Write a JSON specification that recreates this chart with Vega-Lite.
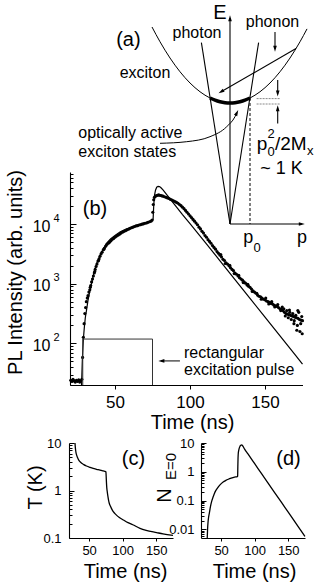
{
"$schema":"https://vega.github.io/schema/vega-lite/v6.json",
"width":321,"height":585,"autosize":"none","padding":0,"background":"white",
"config":{"font":"Liberation Sans","view":{"stroke":null},"axis":{"grid":false,"domainColor":"black","domainWidth":1.1,"tickColor":"black","tickWidth":1,"labelColor":"black","titleColor":"black","titleFontWeight":"normal","labelFlush":false,"labelOverlap":false}},
"resolve":{"scale":{"x":"independent","y":"independent"},"axis":{"x":"independent","y":"independent"}},
"datasets":{
"dots":[{"t":20.5,"I":24},{"t":21.3,"I":23},{"t":22,"I":25},{"t":22.8,"I":23.4},{"t":23.5,"I":22.4},{"t":24.3,"I":24},{"t":25,"I":23},{"t":25.8,"I":24.5},{"t":26.5,"I":22.4},{"t":27.2,"I":23.4},{"t":27.9,"I":25},
{"t":28.4,"I":58},{"t":28.9,"I":126},{"t":29.4,"I":214},{"t":29.9,"I":316},{"t":30.4,"I":398},{"t":30.9,"I":501},{"t":31.5,"I":575},{"t":32,"I":631},{"t":32.6,"I":724},{"t":33.2,"I":794},{"t":33.5,"I":870},{"t":33.8,"I":933},{"t":34.4,"I":1072},{"t":35,"I":1202},{"t":35.6,"I":1349},{"t":36.2,"I":1514},{"t":36.5,"I":1600},{"t":36.8,"I":1738},{"t":37.4,"I":1950},{"t":38,"I":2138},{"t":38.7,"I":2399},{"t":39,"I":2450},{"t":39.4,"I":2630},{"t":40,"I":2884},{"t":40.7,"I":3162},{"t":41.4,"I":3388},{"t":42.2,"I":3715},{"t":42.6,"I":3800},{"t":43,"I":3981},{"t":43.8,"I":4266},{"t":44.6,"I":4571},{"t":45.5,"I":4786},{"t":46,"I":4900},{"t":46.4,"I":5012},{"t":47.3,"I":5248},{"t":48.2,"I":5559},{"t":49.1,"I":5754},{"t":50,"I":6026},{"t":51,"I":6310},{"t":52,"I":6531},{"t":53,"I":6761},{"t":54,"I":7079},{"t":55,"I":7328},{"t":56,"I":7586},{"t":57,"I":7762},{"t":58,"I":8035},{"t":59,"I":8222},{"t":60,"I":8511},{"t":61,"I":8710},{"t":62,"I":8913},{"t":63,"I":9120},{"t":64,"I":9333},{"t":65,"I":9441},{"t":66,"I":9661},{"t":67,"I":9772},{"t":68,"I":10000},{"t":69,"I":10116},{"t":70,"I":10351},{"t":71,"I":10471},{"t":72,"I":10715},{"t":73,"I":10965},{"t":74,"I":11220},{"t":74.8,"I":11749},
{"t":75.2,"I":15849},{"t":75.5,"I":21380},{"t":75.8,"I":25704},{"t":76.3,"I":28184},{"t":77,"I":29512},{"t":77.7,"I":30200},{"t":78.4,"I":30549},{"t":79.1,"I":30903},{"t":79.8,"I":30549},{"t":80.5,"I":30200},{"t":81.2,"I":29854},{"t":82,"I":29512},{"t":83,"I":28840},{"t":84,"I":28184},{"t":85,"I":27542},{"t":86,"I":26915},{"t":87,"I":26002},{"t":88,"I":25410},{"t":89,"I":24547},{"t":90,"I":23988},{"t":91,"I":23174},{"t":92,"I":22387},{"t":93,"I":21380},{"t":94,"I":20417},{"t":95,"I":19275},{"t":96,"I":18197},{"t":97,"I":16982},{"t":98,"I":15849},{"t":99,"I":14791},{"t":100,"I":13804},{"t":101,"I":12882},{"t":102,"I":12023},{"t":103,"I":11220},{"t":104,"I":10471},{"t":105,"I":9772},{"t":106,"I":8913},{"t":107,"I":8318},{"t":108,"I":7586},{"t":109,"I":7079},{"t":110,"I":6457},{"t":111,"I":6026},{"t":112,"I":5495},{"t":113,"I":5129},{"t":114,"I":4786},{"t":115,"I":4365},{"t":116,"I":4074},{"t":117,"I":3802},{"t":118,"I":3467},{"t":119,"I":3236},{"t":120,"I":3020},{"t":120.5,"I":3090},{"t":121,"I":2818},{"t":122,"I":2570},{"t":123,"I":2455},{"t":123.5,"I":2188},{"t":124,"I":2239},{"t":125,"I":2138},{"t":126,"I":1995},{"t":126.5,"I":2042},{"t":127,"I":1862},{"t":128,"I":1738},{"t":129,"I":1660},{"t":129.5,"I":1479},{"t":130,"I":1514},{"t":131,"I":1445},{"t":132,"I":1349},{"t":132.5,"I":1380},{"t":133,"I":1259},{"t":134,"I":1202},{"t":135,"I":1148},{"t":135.5,"I":1047},{"t":136,"I":1072},{"t":137,"I":1023},{"t":138,"I":955},{"t":138.5,"I":977},{"t":139,"I":912},{"t":140,"I":871},{"t":141,"I":813},{"t":141.5,"I":741},{"t":142,"I":759},{"t":143,"I":724},{"t":144,"I":692},{"t":144.5,"I":692},{"t":145,"I":646},{"t":146,"I":617},{"t":147,"I":603},{"t":147.5,"I":550},{"t":148,"I":575},{"t":149,"I":550},{"t":150,"I":537},{"t":150.5,"I":575},{"t":151,"I":513},{"t":152,"I":501},{"t":152.5,"I":457},{"t":153,"I":490},{"t":154,"I":468},{"t":154.5,"I":501},{"t":155,"I":457},{"t":156,"I":437},{"t":156.5,"I":407},{"t":157,"I":427},{"t":158,"I":417},{"t":158.5,"I":447},{"t":159,"I":398},{"t":160,"I":380},{"t":160.5,"I":355},{"t":161,"I":372},{"t":161.5,"I":407},{"t":162,"I":355},{"t":162.5,"I":380},{"t":163,"I":331},{"t":163.5,"I":288},{"t":164,"I":316},{"t":164.5,"I":355},{"t":165,"I":309},{"t":165.5,"I":269},{"t":166,"I":302},{"t":166.3,"I":363},{"t":166.5,"I":331},{"t":167,"I":295},{"t":167.5,"I":251},{"t":168,"I":288},{"t":168.5,"I":316},{"t":169,"I":282},{"t":169.3,"I":214},{"t":169.5,"I":240},{"t":170,"I":275},{"t":170.5,"I":295},{"t":171,"I":269},{"t":171.2,"I":166},{"t":171.6,"I":200},{"t":171.9,"I":355},{"t":172,"I":263},{"t":172.5,"I":331},{"t":173,"I":251},{"t":173.3,"I":158},{"t":173.8,"I":214},{"t":174,"I":245},{"t":174.5,"I":282},{"t":174.8,"I":145},{"t":175,"I":240}],
"fit":[{"t":27.7,"I":20},{"t":28.2,"I":50},{"t":28.9,"I":117},{"t":29.5,"I":178},{"t":30.2,"I":269},{"t":31.1,"I":372},{"t":32,"I":525},{"t":33,"I":708},{"t":34.4,"I":1023},{"t":36,"I":1549},{"t":37.8,"I":2213},{"t":40,"I":2951},{"t":42,"I":3715},{"t":44.5,"I":4786},{"t":47,"I":5623},{"t":50,"I":6457},{"t":53.3,"I":7413},{"t":57,"I":8222},{"t":61,"I":8913},{"t":64.5,"I":9550},{"t":68,"I":10233},{"t":71,"I":10715},{"t":74.5,"I":11350},{"t":75.4,"I":12023},{"t":75.8,"I":19953},{"t":76.3,"I":30200},{"t":77,"I":37154},{"t":77.8,"I":41687},{"t":78.7,"I":43152},{"t":79.6,"I":42658},{"t":80.5,"I":41210},{"t":82,"I":37497},{"t":85,"I":30200},{"t":90,"I":20893},{"t":95,"I":14454},{"t":100,"I":10233},{"t":110,"I":5012},{"t":120,"I":2427},{"t":130,"I":1175},{"t":140,"I":569},{"t":150,"I":275},{"t":160,"I":133},{"t":170,"I":64.6},{"t":175,"I":44.7}],
"pulse":[{"t":28.5,"I":20,"o":1},{"t":28.5,"I":118,"o":2},{"t":75,"I":118,"o":3},{"t":75,"I":20,"o":4}],
"parrow":[{"t":80.9,"I":50.7},{"t":93.3,"I":50.7}],
"phead":[{"t":80.9,"I":50.7}],
"ptext":[{"t":96,"I":56.5,"label":"rectangular"},{"t":96,"I":30,"label":"excitation pulse"}],
"pb":[{"t":36.7,"I":14400,"label":"(b)"}],
"tc":[{"t":28.9,"T":10},{"t":29.3,"T":8.5},{"t":29.8,"T":7.2},{"t":30.5,"T":6.2},{"t":31.5,"T":5.5},{"t":32.5,"T":5.0},{"t":34,"T":4.5},{"t":36,"T":4.1},{"t":38.9,"T":3.74},{"t":42,"T":3.5},{"t":46,"T":3.28},{"t":51.3,"T":3.07},{"t":56,"T":2.92},{"t":61,"T":2.8},{"t":66.2,"T":2.69},{"t":71,"T":2.58},{"t":74.5,"T":2.5},{"t":75,"T":2.48},{"t":75.4,"T":2.0},{"t":75.8,"T":1.5},{"t":76.3,"T":1.15},{"t":77,"T":0.95},{"t":78,"T":0.75},{"t":79,"T":0.62},{"t":80,"T":0.54},{"t":82,"T":0.46},{"t":84,"T":0.4},{"t":86,"T":0.358},{"t":90,"T":0.31},{"t":95,"T":0.27},{"t":101,"T":0.24},{"t":108,"T":0.21},{"t":115,"T":0.19},{"t":125.8,"T":0.16},{"t":135,"T":0.145},{"t":150.7,"T":0.13},{"t":160,"T":0.122},{"t":175,"T":0.113}],
"nd":[{"t":29.3,"N":0.005},{"t":29.8,"N":0.01},{"t":30.5,"N":0.018},{"t":31.3,"N":0.026},{"t":32.4,"N":0.036},{"t":34,"N":0.06},{"t":36,"N":0.095},{"t":38.3,"N":0.138},{"t":41,"N":0.2},{"t":44,"N":0.26},{"t":48.3,"N":0.35},{"t":53,"N":0.44},{"t":57,"N":0.5},{"t":60.7,"N":0.55},{"t":65,"N":0.6},{"t":70,"N":0.65},{"t":74.1,"N":0.68},{"t":74.6,"N":0.7},{"t":74.9,"N":1.5},{"t":75.2,"N":3.0},{"t":75.6,"N":4.5},{"t":76.3,"N":5.6},{"t":77,"N":6.6},{"t":78,"N":7.6},{"t":79.3,"N":8.3},{"t":80.6,"N":8.6},{"t":81.8,"N":8.2},{"t":83,"N":7.4},{"t":85,"N":6.1},{"t":90,"N":4.15},{"t":100,"N":1.91},{"t":110,"N":0.878},{"t":120,"N":0.404},{"t":130,"N":0.186},{"t":140,"N":0.0857},{"t":150,"N":0.0395},{"t":160,"N":0.0182},{"t":170,"N":0.00835},{"t":175,"N":0.00567}],
"cl":[{"t":116,"T":3.52,"label":"(c)"}],
"dl":[{"t":150.4,"N":1.79,"label":"(d)"}],
"ilin":[{"seg":"phL","o":1,"p":0,"E":0},{"seg":"phL","o":2,"p":-1.43,"E":9.07},{"seg":"phR","o":1,"p":0,"E":0},{"seg":"phR","o":2,"p":1.43,"E":9.07},{"seg":"Eax","o":1,"p":0,"E":0},{"seg":"Eax","o":2,"p":0,"E":10.29},{"seg":"pax","o":1,"p":0,"E":0},{"seg":"pax","o":2,"p":3.59,"E":0},{"seg":"long","o":1,"p":3.3,"E":8.77},{"seg":"long","o":2,"p":-0.445,"E":6.61},{"seg":"phon","o":1,"p":2.25,"E":9.6},{"seg":"phon","o":2,"p":2.25,"E":8.76},{"seg":"up","o":1,"p":2.385,"E":7.2},{"seg":"up","o":2,"p":2.385,"E":6.53},{"seg":"lo","o":1,"p":2.385,"E":5.03},{"seg":"lo","o":2,"p":2.385,"E":5.79}],
"icur":[{"seg":"par","o":1,"p":-3.9,"E":9.85},{"seg":"par","o":2,"p":-3.5,"E":9.1125},{"seg":"par","o":3,"p":-3,"E":8.3},{"seg":"par","o":4,"p":-2.5,"E":7.6125},{"seg":"par","o":5,"p":-2,"E":7.05},{"seg":"par","o":6,"p":-1.5,"E":6.6125},{"seg":"par","o":7,"p":-1,"E":6.3},{"seg":"par","o":8,"p":-0.5,"E":6.1125},{"seg":"par","o":9,"p":0,"E":6.05},{"seg":"par","o":10,"p":0.5,"E":6.1125},{"seg":"par","o":11,"p":1,"E":6.3},{"seg":"par","o":12,"p":1.5,"E":6.6125},{"seg":"par","o":13,"p":2,"E":7.05},{"seg":"par","o":14,"p":2.5,"E":7.6125},{"seg":"par","o":15,"p":3,"E":8.3},{"seg":"par","o":16,"p":3.5,"E":9.1125},{"seg":"par","o":17,"p":3.85,"E":9.755},
{"seg":"arr","o":1,"p":-3.5,"E":4.035},{"seg":"arr","o":2,"p":-2.165,"E":4.115},{"seg":"arr","o":3,"p":-1.0,"E":4.365},{"seg":"arr","o":4,"p":-0.165,"E":4.865},{"seg":"arr","o":5,"p":0.25,"E":5.365},{"seg":"arr","o":6,"p":0.345,"E":5.56}],
"ithick":[{"p":-1,"E":6.3},{"p":-0.75,"E":6.19},{"p":-0.5,"E":6.1125},{"p":-0.25,"E":6.0656},{"p":0,"E":6.05},{"p":0.25,"E":6.0656},{"p":0.5,"E":6.1125},{"p":0.75,"E":6.19},{"p":1,"E":6.3}],
"idash":[{"p":1,"E":6.3,"o":1},{"p":1,"E":0,"o":2}],
"igray":[{"seg":"a","p":1.33,"E":6.27},{"seg":"a","p":2.5,"E":6.27},{"seg":"b","p":1.33,"E":6.0},{"seg":"b","p":2.5,"E":6.0}],
"ih0":[{"p":0,"E":10.29},{"p":2.385,"E":5.79}],
"ih26":[{"p":0.345,"E":5.56}],
"ih180":[{"p":2.25,"E":8.76},{"p":2.385,"E":6.53}],
"ih90":[{"p":3.59,"E":0}],
"ih239":[{"p":-0.445,"E":6.61}],
"it16c":[{"p":-1.65,"E":9.3,"label":"photon"},{"p":2.125,"E":9.87,"label":"phonon"},{"p":-4.25,"E":7.28,"label":"exciton"}],
"it16l":[{"p":-7.585,"E":4.285,"label":"optically active"},{"p":-7.585,"E":3.365,"label":"exciton states"}],
"it20c":[{"p":-5.08,"E":8.9,"label":"(a)"},{"p":-0.5,"E":10.25,"label":"E"}],
"it19l":[{"p":1.335,"E":3.7,"label":"p"},{"p":2.25,"E":3.7,"label":"/2M"}],
"it13":[{"p":1.88,"E":3.42,"label":"0"},{"p":1.88,"E":4.3,"label":"2"},{"p":3.85,"E":3.45,"label":"x"},{"p":1.17,"E":-1.4,"label":"0"}],
"it18c":[{"p":2.575,"E":2.5,"label":"~ 1 K"}],
"it18":[{"p":0.665,"E":-0.95,"label":"p"},{"p":3.35,"E":-0.95,"label":"p"}]
},
"layer":[
{"resolve":{"scale":{"x":"shared","y":"shared"},"axis":{"x":"independent","y":"independent"}},
 "layer":[
 {"data":{"name":"dots"},"mark":{"type":"point","filled":true,"color":"black","size":10,"opacity":1},
  "encoding":{"x":{"field":"t","type":"quantitative","scale":{"domain":[20,175],"range":[70,302.5],"nice":false,"zero":false},
     "axis":{"orient":"bottom","offset":-200,"values":[50,100,150],"format":"d","labelFontSize":17,"tickSize":4,"labelPadding":5,"title":"Time (ns)","titleFontSize":20,"titleX":192,"titleY":43,"titleBaseline":"alphabetic","titleAlign":"center"}},
   "y":{"field":"I","type":"quantitative","scale":{"type":"log","domain":[20,75000],"range":[385,172],"nice":false},
     "axis":{"orient":"left","offset":-70,"values":[100,1000,10000],"labelExpr":"'10'","labelFontSize":16,"tickSize":-6,"labelPadding":26,"labelOffset":2,"title":"PL Intensity (arb. units)","titleFontSize":20,"titleX":-49,"titleY":272,"titleBaseline":"alphabetic","titleAlign":"center","titleAngle":-90}}}},
 {"data":{"name":"fit"},"mark":{"type":"line","color":"black","strokeWidth":1.2},
  "encoding":{"x":{"field":"t","type":"quantitative","scale":{"domain":[20,175],"range":[70,302.5],"nice":false,"zero":false},"axis":null},
   "y":{"field":"I","type":"quantitative","scale":{"type":"log","domain":[20,75000],"range":[385,172],"nice":false},
     "axis":{"orient":"left","offset":-70,"values":[100,1000,10000],"labelExpr":"datum.value < 500 ? '2' : (datum.value < 5000 ? '3' : '4')","labelFontSize":11,"ticks":false,"domain":false,"labelPadding":11,"labelOffset":-6,"title":null}}}},
 {"data":{"name":"pulse"},"mark":{"type":"line","color":"#333333","strokeWidth":1},
  "encoding":{"x":{"field":"t","type":"quantitative","scale":{"domain":[20,175],"range":[70,302.5],"nice":false,"zero":false},"axis":null},
   "y":{"field":"I","type":"quantitative","scale":{"type":"log","domain":[20,75000],"range":[385,172],"nice":false},
     "axis":{"orient":"left","offset":-70,"values":[20,30,40,50,60,70,80,90,200,300,400,500,600,700,800,900,2000,3000,4000,5000,6000,7000,8000,9000,20000,30000,40000,50000,60000,70000],"labels":false,"domain":false,"tickSize":-3,"title":null}},
   "order":{"field":"o"}}},
 {"data":{"name":"parrow"},"mark":{"type":"line","color":"black","strokeWidth":1},
  "encoding":{"x":{"field":"t","type":"quantitative","scale":{"domain":[20,175],"range":[70,302.5],"nice":false,"zero":false},"axis":null},
   "y":{"field":"I","type":"quantitative","scale":{"type":"log","domain":[20,75000],"range":[385,172],"nice":false},"axis":null}}},
 {"data":{"name":"phead"},"mark":{"type":"point","shape":"M0,-1L0.6,1L-0.6,1Z","size":36,"filled":true,"color":"black","opacity":1,"angle":270},
  "encoding":{"x":{"field":"t","type":"quantitative","scale":{"domain":[20,175],"range":[70,302.5],"nice":false,"zero":false},"axis":null},
   "y":{"field":"I","type":"quantitative","scale":{"type":"log","domain":[20,75000],"range":[385,172],"nice":false},"axis":null}}},
 {"data":{"name":"ptext"},"mark":{"type":"text","align":"left","baseline":"alphabetic","fontSize":16,"color":"black"},
  "encoding":{"x":{"field":"t","type":"quantitative","scale":{"domain":[20,175],"range":[70,302.5],"nice":false,"zero":false},"axis":null},
   "y":{"field":"I","type":"quantitative","scale":{"type":"log","domain":[20,75000],"range":[385,172],"nice":false},"axis":null},"text":{"field":"label"}}},
 {"data":{"name":"pb"},"mark":{"type":"text","align":"center","baseline":"alphabetic","fontSize":20,"color":"black"},
  "encoding":{"x":{"field":"t","type":"quantitative","scale":{"domain":[20,175],"range":[70,302.5],"nice":false,"zero":false},"axis":null},
   "y":{"field":"I","type":"quantitative","scale":{"type":"log","domain":[20,75000],"range":[385,172],"nice":false},"axis":null},"text":{"field":"label"}}}
 ]},
{"resolve":{"scale":{"x":"shared","y":"shared"}},
 "encoding":{"x":{"field":"p","type":"quantitative","scale":{"domain":[-11.5,4.5],"range":[0,320],"nice":false,"zero":false},"axis":null},
   "y":{"field":"E","type":"quantitative","scale":{"domain":[0,11],"range":[224,4],"nice":false,"zero":false},"axis":null}},
 "layer":[
 {"data":{"name":"ilin"},"mark":{"type":"line","color":"black","strokeWidth":1.1},"encoding":{"detail":{"field":"seg"},"order":{"field":"o"}}},
 {"data":{"name":"icur"},"mark":{"type":"line","color":"black","strokeWidth":1,"interpolate":"monotone"},"encoding":{"detail":{"field":"seg"},"order":{"field":"o"}}},
 {"data":{"name":"ithick"},"mark":{"type":"line","color":"black","strokeWidth":3.5,"interpolate":"monotone"}},
 {"data":{"name":"idash"},"mark":{"type":"line","color":"black","strokeWidth":1,"strokeDash":[3,2]},"encoding":{"order":{"field":"o"}}},
 {"data":{"name":"igray"},"mark":{"type":"line","color":"#888888","strokeWidth":1,"strokeDash":[2,1]},"encoding":{"detail":{"field":"seg"}}},
 {"data":{"name":"ih0"},"mark":{"type":"point","shape":"M0,-1L0.6,1L-0.6,1Z","size":36,"filled":true,"color":"black","opacity":1,"angle":0}},
 {"data":{"name":"ih26"},"mark":{"type":"point","shape":"M0,-1L0.6,1L-0.6,1Z","size":36,"filled":true,"color":"black","opacity":1,"angle":26}},
 {"data":{"name":"ih180"},"mark":{"type":"point","shape":"M0,-1L0.6,1L-0.6,1Z","size":36,"filled":true,"color":"black","opacity":1,"angle":180}},
 {"data":{"name":"ih90"},"mark":{"type":"point","shape":"M0,-1L0.6,1L-0.6,1Z","size":36,"filled":true,"color":"black","opacity":1,"angle":90}},
 {"data":{"name":"ih239"},"mark":{"type":"point","shape":"M0,-1L0.6,1L-0.6,1Z","size":36,"filled":true,"color":"black","opacity":1,"angle":239}},
 {"data":{"name":"it16c"},"mark":{"type":"text","align":"center","baseline":"alphabetic","fontSize":16,"color":"black"},"encoding":{"text":{"field":"label"}}},
 {"data":{"name":"it16l"},"mark":{"type":"text","align":"left","baseline":"alphabetic","fontSize":16,"color":"black"},"encoding":{"text":{"field":"label"}}},
 {"data":{"name":"it20c"},"mark":{"type":"text","align":"center","baseline":"alphabetic","fontSize":20,"color":"black"},"encoding":{"text":{"field":"label"}}},
 {"data":{"name":"it19l"},"mark":{"type":"text","align":"left","baseline":"alphabetic","fontSize":19,"color":"black"},"encoding":{"text":{"field":"label"}}},
 {"data":{"name":"it13"},"mark":{"type":"text","align":"left","baseline":"alphabetic","fontSize":13,"color":"black"},"encoding":{"text":{"field":"label"}}},
 {"data":{"name":"it18c"},"mark":{"type":"text","align":"center","baseline":"alphabetic","fontSize":18,"color":"black"},"encoding":{"text":{"field":"label"}}},
 {"data":{"name":"it18"},"mark":{"type":"text","align":"left","baseline":"alphabetic","fontSize":18,"color":"black"},"encoding":{"text":{"field":"label"}}}
 ]},
{"resolve":{"scale":{"x":"shared","y":"shared"},"axis":{"x":"independent","y":"independent"}},
 "layer":[
 {"data":{"name":"tc"},"mark":{"type":"line","color":"black","strokeWidth":1.3,"interpolate":"monotone"},
  "encoding":{"x":{"field":"t","type":"quantitative","scale":{"domain":[20,175],"range":[69,173],"nice":false,"zero":false},
     "axis":{"orient":"bottom","offset":-47,"values":[50,100,150],"format":"d","labelFontSize":13,"tickSize":3,"labelPadding":3,"title":"Time (ns)","titleFontSize":20,"titleX":125,"titleY":39,"titleBaseline":"alphabetic","titleAlign":"center"}},
   "y":{"field":"T","type":"quantitative","scale":{"type":"log","domain":[0.1,10],"range":[538,443],"nice":false},
     "axis":{"orient":"left","offset":-69,"values":[0.1,1,10],"format":"~g","labelFontSize":13,"tickSize":-5,"labelPadding":13,"title":"T (K)","titleFontSize":20,"titleX":-28,"titleY":487,"titleBaseline":"alphabetic","titleAlign":"center","titleAngle":-90}}}},
 {"data":{"name":"cl"},"mark":{"type":"text","align":"center","baseline":"alphabetic","fontSize":20,"color":"black"},
  "encoding":{"x":{"field":"t","type":"quantitative","scale":{"domain":[20,175],"range":[69,173],"nice":false,"zero":false},"axis":null},
   "y":{"field":"T","type":"quantitative","scale":{"type":"log","domain":[0.1,10],"range":[538,443],"nice":false},
     "axis":{"orient":"left","offset":-69,"values":[0.2,0.3,0.4,0.5,0.6,0.7,0.8,0.9,2,3,4,5,6,7,8,9],"labels":false,"domain":false,"tickSize":-3,"title":null}},
   "text":{"field":"label"}}}
 ]},
{"resolve":{"scale":{"x":"shared","y":"shared"},"axis":{"x":"independent","y":"independent"}},
 "layer":[
 {"data":{"name":"nd"},"mark":{"type":"line","color":"black","strokeWidth":1.3,"interpolate":"monotone"},
  "encoding":{"x":{"field":"t","type":"quantitative","scale":{"domain":[20,175],"range":[201,305],"nice":false,"zero":false},
     "axis":{"orient":"bottom","offset":-47,"values":[50,100,150],"format":"d","labelFontSize":13,"tickSize":3,"labelPadding":3,"title":"Time (ns)","titleFontSize":20,"titleX":254,"titleY":39,"titleBaseline":"alphabetic","titleAlign":"center"}},
   "y":{"field":"N","type":"quantitative","scale":{"type":"log","domain":[0.005,10],"range":[538,443],"nice":false},
     "axis":{"orient":"left","offset":-201,"values":[0.01,0.1,1,10],"format":"~g","labelFontSize":13,"tickSize":-5,"labelPadding":12,"title":"N","titleFontSize":20,"titleX":-31,"titleY":495,"titleBaseline":"alphabetic","titleAlign":"center","titleAngle":-90}}}},
 {"data":{"name":"dl"},"mark":{"type":"text","align":"center","baseline":"alphabetic","fontSize":20,"color":"black"},
  "encoding":{"x":{"field":"t","type":"quantitative","scale":{"domain":[20,175],"range":[201,305],"nice":false,"zero":false},"axis":null},
   "y":{"field":"N","type":"quantitative","scale":{"type":"log","domain":[0.005,10],"range":[538,443],"nice":false},
     "axis":{"orient":"left","offset":-201,"values":[0.006,0.007,0.008,0.009,0.02,0.03,0.04,0.05,0.06,0.07,0.08,0.09,0.2,0.3,0.4,0.5,0.6,0.7,0.8,0.9,2,3,4,5,6,7,8,9],"labels":false,"domain":false,"tickSize":-3,"title":"E=0","titleFontSize":15,"titleX":-26,"titleY":466,"titleBaseline":"alphabetic","titleAlign":"center","titleAngle":-90}},
   "text":{"field":"label"}}}
 ]}
]
}
